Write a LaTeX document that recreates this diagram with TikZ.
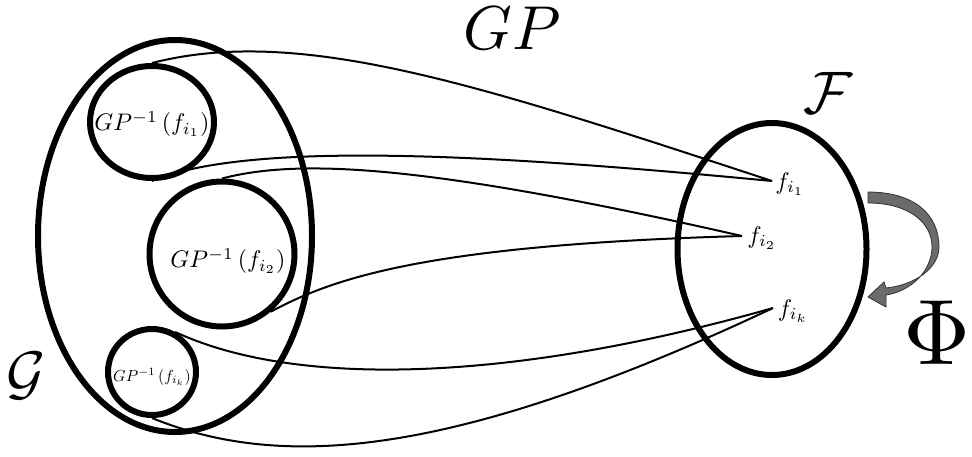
\documentclass[tikz,border=0pt]{standalone}
\usetikzlibrary{shapes.geometric}

\begin{document}
\begin{tikzpicture}[x=1pt,y=-1pt,
  set/.style={draw,ellipse,line width=6pt,inner sep=0pt},
  map/.style={line width=2pt},
  lab/.style={inner sep=0pt}]
  \useasboundingbox (0,0) rectangle (972,456);
  \clip (0,0) rectangle (972,456);

  % set G and the preimages
  \node[set,minimum width=274pt,minimum height=392pt] (G) at (175,236) {};
  \node[set,minimum width=124pt,minimum height=112pt] (c1) at (152,122) {};
  \node[set,minimum width=145pt,minimum height=145pt] (c2) at (222,254) {};
  \node[set,minimum width=88pt,minimum height=86pt] (ck) at (152,372) {};
  \node[lab,scale=2.4] (t1) at (152,124) {$GP^{-1}\left(f_{i_1}\right)$};
  \node[lab,scale=2.4] (t2) at (228,261) {$GP^{-1}\left(f_{i_2}\right)$};
  \node[lab,scale=1.6] (tk) at (152,377) {$GP^{-1}\left(f_{i_k}\right)$};
  \node[lab,scale=6] (Gl) at (26,376) {$\mathcal{G}$};

  % set F
  \node[set,minimum width=189pt,minimum height=252pt] (F) at (772,249) {};
  \node[lab,scale=6] (Fl) at (828,93) {$\mathcal{F}$};
  \coordinate (p1) at (772,181);
  \coordinate (p2) at (742,236);
  \coordinate (pk) at (773,308);
  \node[lab,scale=2.4] (f1) at (790,184) {$f_{i_1}$};
  \node[lab,scale=2.4] (f2) at (762,238) {$f_{i_2}$};
  \node[lab,scale=2.4] (fk) at (793,311) {$f_{i_k}$};

  % the map GP
  \node[lab,scale=6.2] (gp) at (512,28) {$GP$};
  \draw[map] (c1.north) .. controls (300,25) and (480,85) .. (p1);
  \draw[map] (c1.south) .. controls (250,140) and (500,155) .. (p1);
  \draw[map] (c2.north) .. controls (300,158) and (430,165) .. (p2);
  \draw[map] (c2.-50) .. controls (330,280) and (420,245) .. (p2);
  \draw[map] (ck.60) .. controls (300,390) and (520,380) .. (pk);
  \draw[map] (ck.south) .. controls (280,470) and (450,460) .. (pk);

  % Phi
  \fill[black!58,draw=black!80,line width=0.8pt]
    (868,192) .. controls (915,192) and (939,215) .. (939,247)
    .. controls (939,268) and (915,285) .. (886,288)
    -- (884,282) -- (868,297) -- (886,307) -- (886,295)
    .. controls (912,291) and (932,270) .. (932,247)
    .. controls (932,222) and (908,203) .. (868,203) -- cycle;
  \node[lab,scale=9.3] (phi) at (937,333) {$\Phi$};
\end{tikzpicture}
\end{document}
